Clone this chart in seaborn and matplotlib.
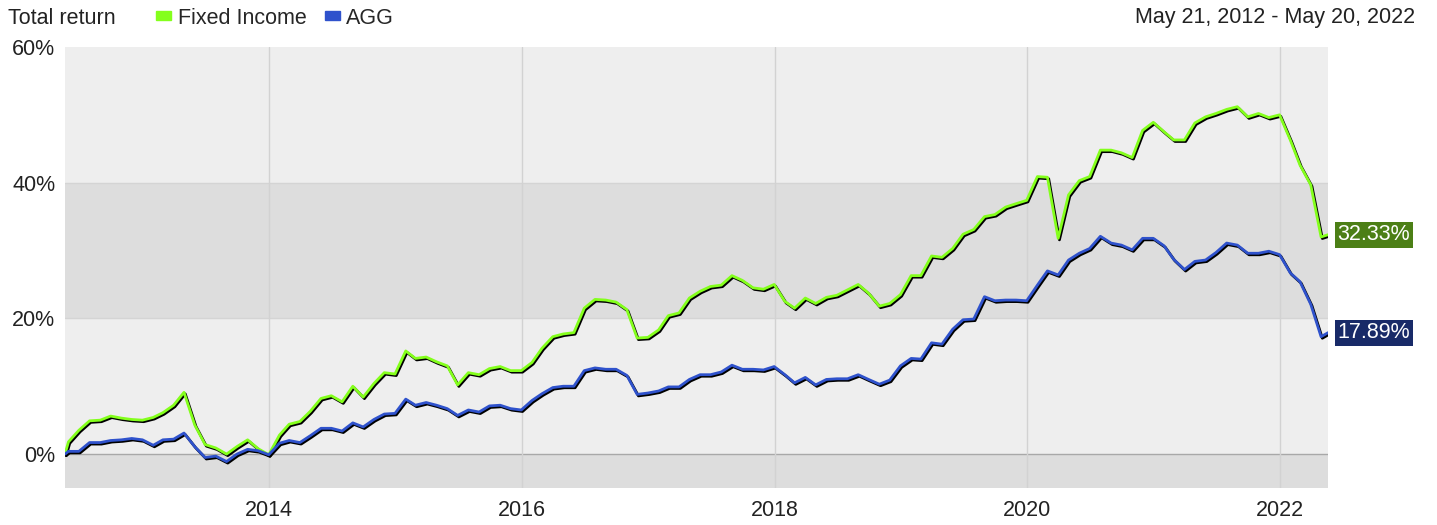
import matplotlib
matplotlib.use("Agg")
import matplotlib.pyplot as plt
import matplotlib.dates as mdates
import matplotlib.patheffects as pe
from matplotlib.patches import Patch
import numpy as np
import pandas as pd
import seaborn as sns

# monthly points: start date, month ends, end date
dates = ([pd.Timestamp("2012-05-21")]
         + list(pd.date_range("2012-05-31", "2022-04-30", freq="ME"))
         + [pd.Timestamp("2022-05-20")])

fixed_income = [
    0.0, 1.8, 3.5, 4.9, 5.0, 5.6, 5.3, 5.1, 5.0,
    5.4, 6.1, 7.2, 9.1, 4.3, 1.4, 0.9, 0.0, 1.1, 2.1, 0.8, -0.1,
    2.8, 4.4, 4.8, 6.3, 8.2, 8.6, 7.7, 10.0, 8.4, 10.4, 12.0, 11.8,
    15.2, 14.1, 14.3, 13.6, 13.0, 10.2, 12.0, 11.7, 12.6, 12.9, 12.3, 12.3,
    13.5, 15.6, 17.3, 17.7, 17.9, 21.5, 22.8, 22.7, 22.4, 21.3, 17.1, 17.2,
    18.3, 20.4, 20.8, 23.0, 24.0, 24.7, 24.9, 26.3, 25.6, 24.5, 24.3, 25.0,
    22.5, 21.5, 23.0, 22.2, 23.1, 23.4, 24.2, 25.0, 23.7, 21.8, 22.2, 23.5,
    26.3, 26.3, 29.2, 29.0, 30.3, 32.4, 33.1, 35.0, 35.3, 36.4, 36.9, 37.4,
    40.9, 40.8, 31.8, 38.2, 40.3, 40.9, 44.8, 44.8, 44.4, 43.7, 47.7, 48.9,
    47.5, 46.3, 46.3, 48.8, 49.7, 50.2, 50.8, 51.2, 49.7, 50.2, 49.6, 50.0,
    46.3, 42.6, 39.7, 32.0, 32.33,
]
agg = [
    0.0, 0.4, 0.4, 1.7, 1.7, 2.0, 2.1, 2.3, 2.1,
    1.3, 2.1, 2.2, 3.1, 1.1, -0.5, -0.3, -1.1, 0.0, 0.7, 0.5, -0.1,
    1.6, 2.0, 1.7, 2.7, 3.8, 3.8, 3.4, 4.6, 4.0, 5.1, 5.9, 6.0,
    8.1, 7.2, 7.6, 7.2, 6.7, 5.7, 6.5, 6.2, 7.1, 7.2, 6.7, 6.5,
    7.9, 8.9, 9.8, 10.0, 10.0, 12.3, 12.7, 12.5, 12.5, 11.6, 8.8, 9.0,
    9.3, 9.9, 9.9, 11.0, 11.7, 11.7, 12.1, 13.1, 12.5, 12.5, 12.4, 12.9,
    11.7, 10.5, 11.3, 10.2, 11.0, 11.1, 11.1, 11.7, 11.0, 10.3, 10.9, 13.0,
    14.1, 14.0, 16.4, 16.2, 18.4, 19.8, 19.9, 23.2, 22.6, 22.7, 22.7, 22.6,
    24.9, 27.0, 26.4, 28.6, 29.6, 30.3, 32.1, 31.1, 30.8, 30.1, 31.8, 31.8,
    30.7, 28.7, 27.2, 28.4, 28.6, 29.7, 31.1, 30.8, 29.6, 29.6, 29.9, 29.4,
    26.7, 25.4, 22.1, 17.3, 17.89,
]
series_names = ["Fixed Income", "AGG"]
line_colors = ["#84ff1c", "#2f52cc"]
box_colors = ["#4c7f16", "#182a68"]
year_ticks = [2014, 2016, 2018, 2020, 2022]
y_ticks = [0, 20, 40, 60]

df = pd.DataFrame({"date": dates, "Fixed Income": fixed_income, "AGG": agg})
long = df.melt(id_vars="date", var_name="series", value_name="ret")

sns.set_style("white")
plt.rcParams["font.family"] = ["Liberation Sans", "DejaVu Sans"]
FS = 15.5

fig = plt.figure(figsize=(14.37, 5.25), dpi=100)
ax = fig.add_axes([65 / 1437, 1 - 488 / 525, (1328 - 65) / 1437, (488 - 47) / 525])

# alternating bands
band_edges = [-5, 0, 20, 40, 60]
band_cols = ["#dddddd", "#eeeeee", "#dddddd", "#eeeeee"]
for lo, hi, c in zip(band_edges[:-1], band_edges[1:], band_cols):
    ax.axhspan(lo, hi, color=c, zorder=0, lw=0)
for v in [20, 40]:
    ax.axhline(v, color="#d4d4d4", lw=1, zorder=1)
ax.axhline(0, color="#a8a8a8", lw=1, zorder=1)
for yr in year_ticks:
    ax.axvline(pd.Timestamp(f"{yr}-01-01"), color="#d2d2d2", lw=1, zorder=1)

shadow = [pe.SimpleLineShadow(offset=(0.9, -1.1), shadow_color="black", alpha=1, rho=1),
          pe.Normal()]
sns.lineplot(data=long, x="date", y="ret", hue="series", palette=line_colors,
             hue_order=series_names, lw=2, ax=ax, legend=False,
             path_effects=shadow, zorder=3)

ax.set_xlim(dates[0], dates[-1])
ax.set_ylim(-5, 60)
ax.set_xticks([pd.Timestamp(f"{yr}-01-01") for yr in year_ticks])
ax.xaxis.set_major_formatter(mdates.DateFormatter("%Y"))
ax.set_yticks(y_ticks)
ax.set_yticklabels([f"{v}%" for v in y_ticks])
ax.tick_params(length=0, labelsize=FS, colors="#222222", pad=7)
ax.tick_params(axis="x", pad=9)
ax.set_xlabel("")
ax.set_ylabel("")
for s in ax.spines.values():
    s.set_visible(False)

# end value labels
for vals, c in zip([fixed_income, agg], box_colors):
    ax.annotate(f"{vals[-1]:.2f}%", xy=(1, vals[-1]), xycoords=("axes fraction", "data"),
                xytext=(7, 0), textcoords="offset points", va="center", ha="left",
                color="white", fontsize=FS,
                bbox=dict(boxstyle="square,pad=0.12", fc=c, ec="none"))

fig.text(8 / 1437, 1 - 18 / 525, "Total return", fontsize=FS, color="#222222",
         va="center", ha="left")
fig.text(1415 / 1437, 1 - 18 / 525, "May 21, 2012 - May 20, 2022", fontsize=FS,
         color="#222222", va="center", ha="right")
handles = [Patch(color=c) for c in line_colors]
fig.legend(handles, series_names, loc="center left", bbox_to_anchor=(156 / 1437, 1 - 18 / 525),
           ncol=2, frameon=False, handlelength=0.7, handleheight=0.3, handletextpad=0.3,
           columnspacing=0.85, borderaxespad=0, borderpad=0, fontsize=FS)

fig.savefig("out.png", dpi=100)
